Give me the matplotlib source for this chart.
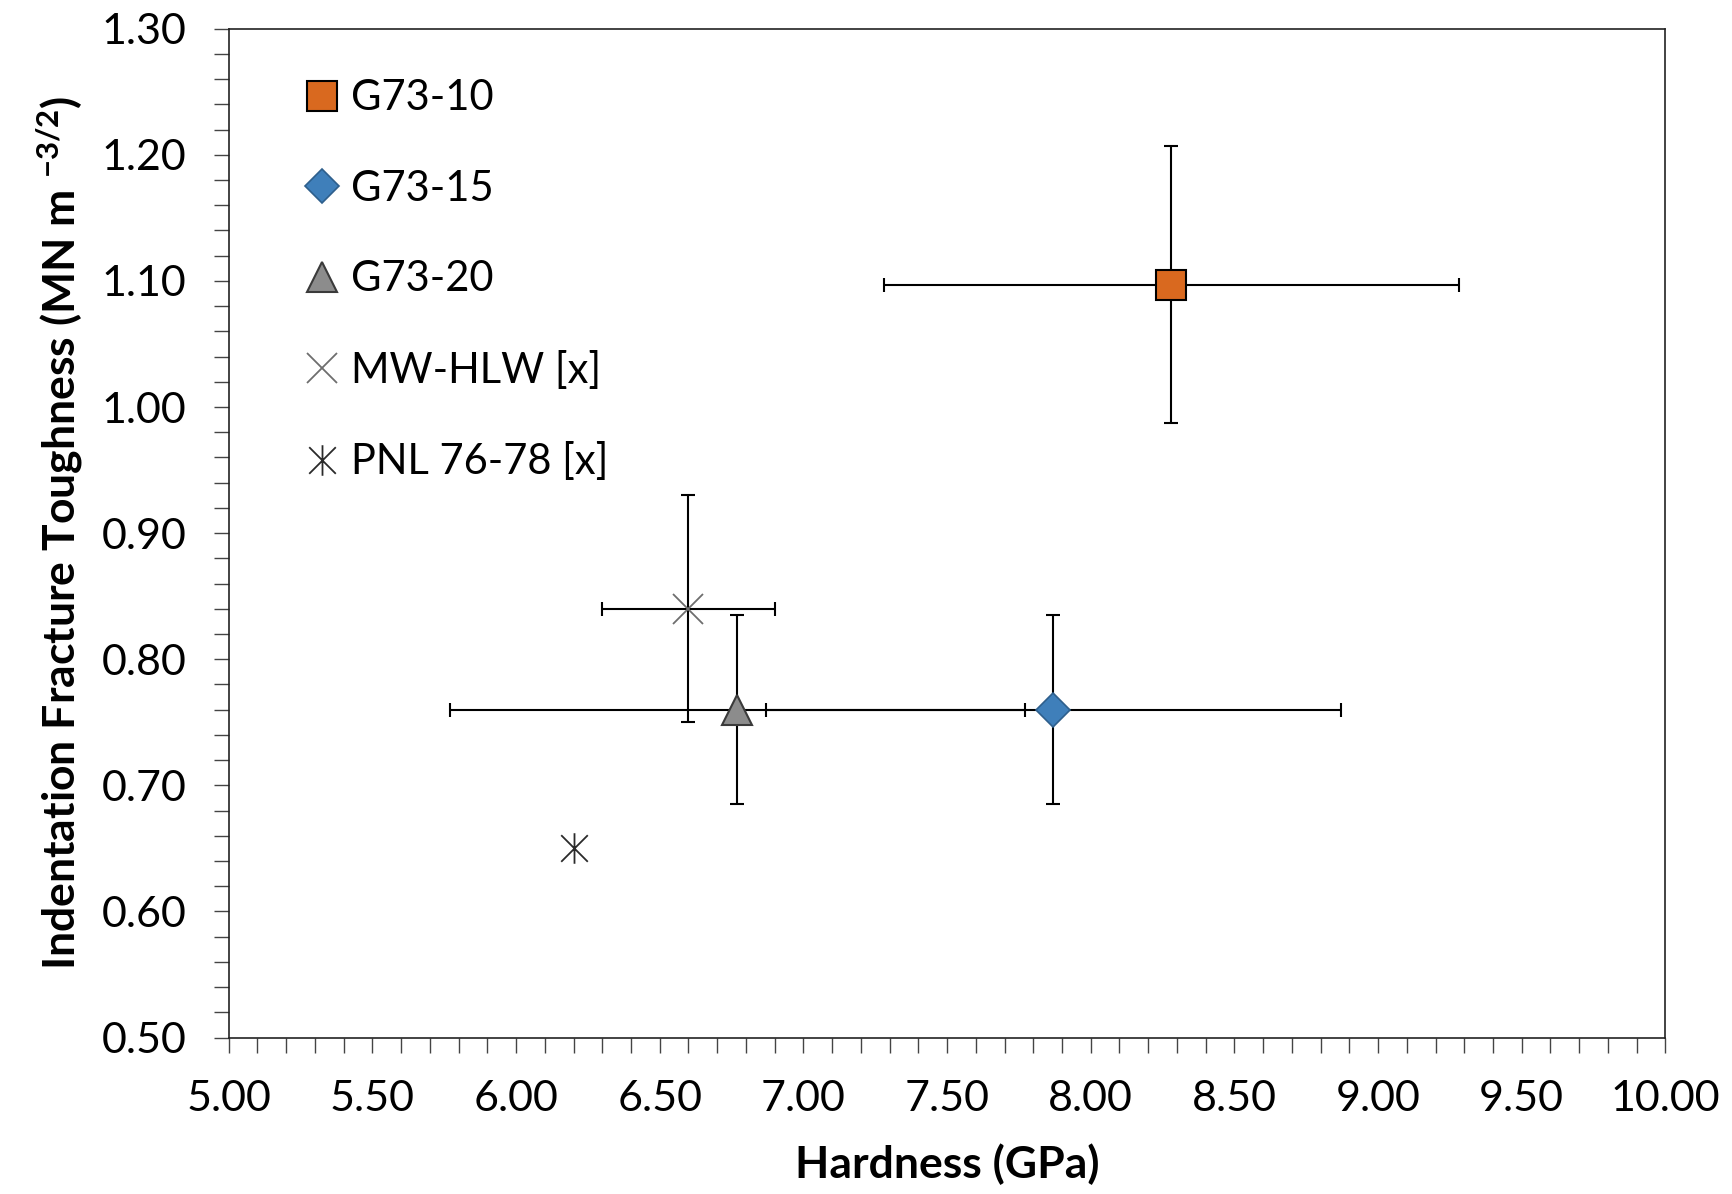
import numpy as np
import matplotlib.pyplot as plt
from matplotlib.path import Path
from matplotlib.ticker import MultipleLocator, FormatStrFormatter

plt.rcParams['font.family'] = ['Lato', 'DejaVu Sans']
plt.rcParams['mathtext.default'] = 'regular'

# data
names = ['G73-10', 'G73-15', 'G73-20', 'MW-HLW [x]', 'PNL 76-78 [x]']
hardness = [8.28, 7.87, 6.77, 6.60, 6.20]
toughness = [1.097, 0.76, 0.76, 0.84, 0.65]
hardness_err = [1.0, 1.0, 1.0, 0.30, None]
toughness_err = [0.11, 0.075, 0.075, 0.09, None]

# asterisk marker: x plus a vertical stroke
star = Path([(-1, -1), (1, 1), (-1, 1), (1, -1), (0, -1.15), (0, 1.15)],
            [Path.MOVETO, Path.LINETO, Path.MOVETO, Path.LINETO, Path.MOVETO, Path.LINETO])

styles = [
    dict(marker='s', ms=21, mfc='#D9691F', mec='black', mew=1.5),
    dict(marker='D', ms=17, mfc='#3F7FBA', mec='#2E5F8C', mew=1.2),
    dict(marker='^', ms=22, mfc='#8C8C8C', mec='#3A3A3A', mew=1.5),
    dict(marker='x', ms=22, mfc='none', mec='#6E6E6E', mew=1.3),
    dict(marker=star, ms=22, mfc='none', mec='#2A2A2A', mew=1.3),
]

fig = plt.figure(figsize=(17.33, 11.94), dpi=100)
ax = fig.add_axes([0.132, 0.131, 0.829, 0.845])

for i in range(len(names)):
    if hardness_err[i] is not None:
        ax.errorbar(hardness[i], toughness[i], xerr=hardness_err[i], yerr=toughness_err[i],
                    fmt='none', ecolor='black', elinewidth=1.5, capsize=5, capthick=1.5, zorder=2)
    ax.plot(hardness[i], toughness[i], linestyle='none', label=names[i], zorder=3, **styles[i])

ax.set_xlim(5.0, 10.0)
ax.set_ylim(0.50, 1.30)
ax.xaxis.set_major_locator(MultipleLocator(0.5))
ax.xaxis.set_minor_locator(MultipleLocator(0.1))
ax.yaxis.set_major_locator(MultipleLocator(0.1))
ax.yaxis.set_minor_locator(MultipleLocator(0.02))
ax.xaxis.set_major_formatter(FormatStrFormatter('%.2f'))
ax.yaxis.set_major_formatter(FormatStrFormatter('%.2f'))
ax.tick_params(which='both', direction='out', length=10.5, width=1, color='#444444')
ax.tick_params(which='major', labelsize=31, pad=20)
for s in ax.spines.values():
    s.set_linewidth(1.2)
    s.set_color('#222222')

ax.set_xlabel('Hardness (GPa)', fontsize=32, fontweight='bold', labelpad=18)
ax.set_ylabel(r'Indentation Fracture Toughness (MN m $^{-3/2}$)', fontsize=32,
              fontweight='bold', labelpad=12)

ax.legend(loc='upper left', bbox_to_anchor=(0.023, 0.991), frameon=False, fontsize=30,
          handlelength=0.9, handletextpad=0.25, labelspacing=1.26, borderaxespad=0.6,
          numpoints=1)

fig.savefig('out.png', dpi=100)
